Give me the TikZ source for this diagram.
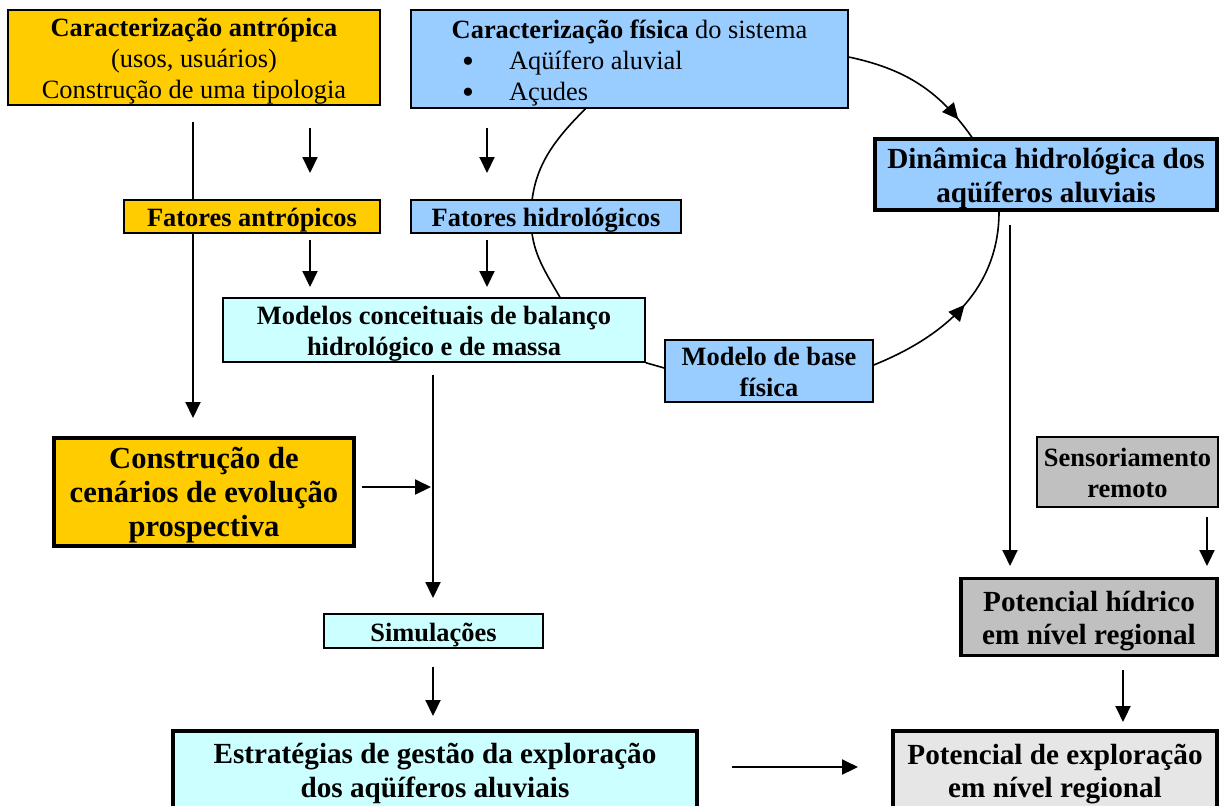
\documentclass[tikz,border=0pt]{standalone}
\usepackage{fontspec}
\setmainfont{Liberation Serif}
\usetikzlibrary{arrows.meta,backgrounds,decorations.markings}
\definecolor{orng}{HTML}{FFCC00}
\definecolor{blu}{HTML}{99CCFF}
\definecolor{cyn}{HTML}{CCFFFF}
\definecolor{gry}{HTML}{C0C0C0}
\definecolor{lgry}{HTML}{E6E6E6}
\newcommand{\tb}[2][c]{\raisebox{-2pt}[\height][\depth]{\begin{tabular}{@{}#1@{}}#2\end{tabular}}}
\newcommand{\blt}{\raisebox{-1.6pt}{\fontsize{17}{15.5}\selectfont •}}
\tikzset{
  base/.style={draw, line width=0.7pt, inner sep=0pt,
    font=\bfseries\fontsize{13.2}{15.5}\selectfont},
  big/.style={base, line width=1.6pt, font=\bfseries\fontsize{14.6}{17}\selectfont},
  arr/.style={line width=1pt, -{Triangle[length=8pt,width=7.5pt]}},
  conn/.style={line width=0.8pt},
  midarrow/.style={conn, postaction={decorate}, decoration={markings,
    mark=at position #1 with {\arrow{Triangle[length=8pt,width=7.5pt]}}}},
}
\begin{document}
\begin{tikzpicture}[x=0.5pt,y=-0.5pt]
\useasboundingbox (0,0) rectangle (1219,805);
\clip (0,0) rectangle (1219,805);

% nodes
\node[base, fill=orng, minimum width=186pt, minimum height=47.5pt] (antr) at (194,57.5)
  {\tb{Caracterização antrópica\\ \mdseries (usos, usuários)\\ \mdseries Construção de uma tipologia}};
\node[base, font=\fontsize{13.2}{15.5}\selectfont, fill=blu, minimum width=218.5pt,
  minimum height=49pt] (fis) at (629.5,59)
  {\tb[l]{\makebox[218.5pt][c]{\textbf{Caracterização física} do sistema}\\
   \hspace*{25.5pt}\makebox[23.5pt][l]{\blt}Aqüífero aluvial\\
   \hspace*{25.5pt}\makebox[23.5pt][l]{\blt}Açudes}};
\node[big, fill=blu, minimum width=171pt, minimum height=35.5pt] (dyn) at (1046,174.5)
  {\tb{Dinâmica hidrológica dos\\ aqüíferos aluviais}};
\node[base, fill=orng, minimum width=128pt, minimum height=16.5pt] (fa) at (252,216.5)
  {\tb{Fatores antrópicos}};
\node[base, fill=blu, minimum width=135pt, minimum height=16.5pt] (fh) at (546,216.5)
  {\tb{Fatores hidrológicos}};
\node[base, fill=cyn, minimum width=211pt, minimum height=32pt] (mc) at (434,330)
  {\tb{Modelos conceituais de balanço\\ hidrológico e de massa}};
\node[base, fill=blu, minimum width=104pt, minimum height=31pt] (mb) at (769,371)
  {\tb{Modelo de base\\ física}};
\node[big, font=\bfseries\fontsize{15.3}{17}\selectfont, fill=orng, minimum width=150pt, minimum height=54pt] (cons) at (204,492)
  {\tb{Construção de\\ cenários de evolução\\ prospectiva}};
\node[base, fill=cyn, minimum width=109.5pt, minimum height=17pt] (sim) at (433.5,631)
  {\tb{Simulações}};
\node[big, fill=cyn, minimum width=262pt, minimum height=39pt] (est) at (435,770)
  {\tb{Estratégias de gestão da exploração\\ dos aqüíferos aluviais}};
\node[base, fill=gry, minimum width=90.5pt, minimum height=35pt] (sens) at (1127.5,472)
  {\tb{Sensoriamento\\ remoto}};
\node[big, font=\bfseries\fontsize{14.6}{16.5}\selectfont, fill=gry, minimum width=128pt, minimum height=38.5pt] (ph) at (1089,617)
  {\tb{Potencial hídrico\\ em nível regional}};
\node[big, font=\bfseries\fontsize{14.6}{16.5}\selectfont, fill=lgry, minimum width=162pt, minimum height=39pt] (pe) at (1055,770)
  {\tb{Potencial de exploração\\ em nível regional}};

% free ends of the floating arrows
\coordinate (a0s) at (193,122);   \coordinate (a0e) at (193,418);
\coordinate (a1s) at (310,128);   \coordinate (a1e) at (310,173);
\coordinate (a2s) at (487,128);   \coordinate (a2e) at (487,173);
\coordinate (a3s) at (310,240);   \coordinate (a3e) at (310,287);
\coordinate (a4s) at (487,240);   \coordinate (a4e) at (487,287);
\coordinate (a5s) at (433,375);   \coordinate (a5e) at (433,598);
\coordinate (a6s) at (362,487);   \coordinate (a6e) at (431,487);
\coordinate (a7s) at (433,667);   \coordinate (a7e) at (433,716);
\coordinate (a8s) at (732,767);   \coordinate (a8e) at (858,767);
\coordinate (a9s) at (1010,225);  \coordinate (a9e) at (1010,566);
\coordinate (a10s) at (1207,517); \coordinate (a10e) at (1207,566);
\coordinate (a11s) at (1123,670); \coordinate (a11e) at (1123,722);
\coordinate (lft) at (531,218);

\begin{pgfonlayer}{background}
  \draw[arr] (a0s) -- (a0e);
  \draw[arr] (a1s) -- (a1e);
  \draw[arr] (a2s) -- (a2e);
  \draw[arr] (a3s) -- (a3e);
  \draw[arr] (a4s) -- (a4e);
  \draw[arr] (a5s) -- (a5e);
  \draw[arr] (a6s) -- (a6e);
  \draw[arr] (a7s) -- (a7e);
  \draw[arr] (a8s) -- (a8e);
  \draw[arr] (a9s) -- (a9e);
  \draw[arr] (a10s) -- (a10e);
  \draw[arr] (a11s) -- (a11e);
  % cycle of curves
  \draw[conn] ([xshift=-22pt]fis.south) to[out=225,in=90] (lft)
      to[out=-90,in=120] ([xshift=63pt]mc.north);
  \draw[conn] (mc.south east) -- ([yshift=1.5pt]mb.west);
  \draw[midarrow=0.52] ([yshift=3pt]mb.east) to[out=22,in=-90] ([xshift=-23.5pt]dyn.south);
  \draw[midarrow=0.85] ([yshift=1pt]fis.east) to[out=-12,in=125] ([xshift=-37pt]dyn.north);
\end{pgfonlayer}
\end{tikzpicture}
\end{document}
